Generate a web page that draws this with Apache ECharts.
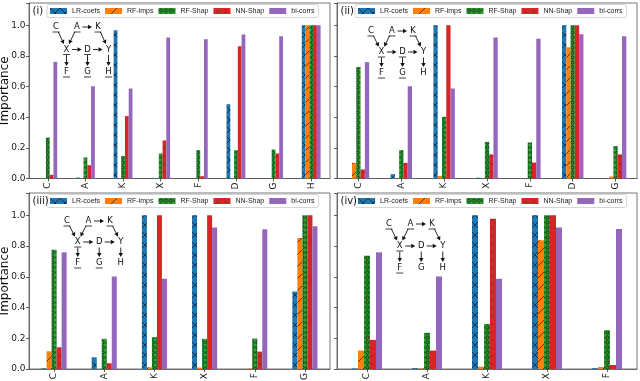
<!DOCTYPE html>
<html><head><meta charset="utf-8">
<script src="https://cdn.jsdelivr.net/npm/echarts@6/dist/echarts.min.js"></script>
<style>html,body{margin:0;padding:0;background:#fff}#c{width:640px;height:381px}</style>
</head><body><div id="c"></div><script>
// ---------- DATA ----------
const seriesNames = ['LR-coefs', 'RF-imps', 'RF-Shap', 'NN-Shap', 'bi-corrs'];
const panelLabels = ['(i)', '(ii)', '(iii)', '(iv)'];
const yTicks = [0, 0.2, 0.4, 0.6, 0.8, 1.0];

const cats1 = ['C', 'A', 'K', 'X', 'F', 'D', 'G', 'H'];
const p1LR     = [0, 0.006, 0.967, 0.004, 0, 0.485, 0, 1.0];
const p1RFimp  = [0, 0, 0, 0, 0, 0, 0, 1.0];
const p1RFshap = [0.267, 0.137, 0.146, 0.163, 0.185, 0.185, 0.189, 1.0];
const p1NN     = [0.024, 0.087, 0.407, 0.248, 0.015, 0.863, 0.163, 1.0];
const p1Bi     = [0.761, 0.602, 0.587, 0.920, 0.909, 0.939, 0.928, 1.0];

const cats2 = ['C', 'A', 'K', 'X', 'F', 'D', 'G'];
const p2LR     = [0, 0.028, 1.0, 0.005, 0, 1.0, 0];
const p2RFimp  = [0.102, 0.003, 0.017, 0, 0, 0.857, 0.013];
const p2RFshap = [0.728, 0.185, 0.402, 0.239, 0.235, 1.0, 0.211];
const p2NN     = [0.059, 0.102, 1.0, 0.157, 0.104, 1.0, 0.157];
const p2Bi     = [0.759, 0.602, 0.587, 0.920, 0.911, 0.941, 0.928];

const cats3 = ['C', 'A', 'K', 'X', 'F', 'G'];
const p3LR     = [0.005, 0.076, 1.0, 1.0, 0, 0.504];
const p3RFimp  = [0.115, 0, 0.011, 0.009, 0.004, 0.852];
const p3RFshap = [0.776, 0.196, 0.207, 0.196, 0.198, 1.0];
const p3NN     = [0.141, 0.037, 1.0, 1.0, 0.113, 1.0];
const p3Bi     = [0.759, 0.602, 0.587, 0.920, 0.909, 0.928];

const cats4 = ['C', 'A', 'K', 'X', 'F'];
const p4LR     = [0.004, 0.006, 1.0, 1.0, 0.006];
const p4RFimp  = [0.120, 0.004, 0.015, 0.837, 0.013];
const p4RFshap = [0.737, 0.235, 0.293, 1.0, 0.252];
const p4NN     = [0.189, 0.120, 0.978, 1.0, 0.026];
const p4Bi     = [0.759, 0.602, 0.587, 0.920, 0.911];

// causal diagram (same graph in every panel)
const dagNodes = ['C', 'A', 'K', 'X', 'D', 'Y', 'F', 'G', 'H'];
const dagCol   = [0, 1, 2, 0.5, 1.5, 2.5, 0.5, 1.5, 2.5];
const dagRow   = [0, 0, 0, 1, 1, 1, 2, 2, 2];
const dagEdges = [['C','X'],['A','X'],['A','K'],['K','Y'],['X','D'],['D','Y'],['X','F'],['D','G'],['Y','H']];

// ---------- LAYOUT / STYLE ----------
const panels = [
  {cats: cats1, vals: [p1LR, p1RFimp, p1RFshap, p1NN, p1Bi], grid: {left: 29, top: 3, width: 301, height: 175.5}, dag: [56, 27, 21, 22.5]},
  {cats: cats2, vals: [p2LR, p2RFimp, p2RFshap, p2NN, p2Bi], grid: {left: 337, top: 3, width: 300, height: 175.5}, dag: [371, 31, 21, 21]},
  {cats: cats3, vals: [p3LR, p3RFimp, p3RFshap, p3NN, p3Bi], grid: {left: 29, top: 193, width: 301, height: 176}, dag: [67, 221, 21.5, 21]},
  {cats: cats4, vals: [p4LR, p4RFimp, p4RFshap, p4NN, p4Bi], grid: {left: 337, top: 193, width: 300, height: 176}, dag: [389, 224, 21.5, 22]}
];
const FONT = 'DejaVu Sans';

function pattern(fill, size, draw) {
  const c = document.createElement('canvas');
  c.width = size[0]; c.height = size[1];
  const x = c.getContext('2d');
  x.fillStyle = fill; x.fillRect(0, 0, size[0], size[1]);
  x.strokeStyle = '#101820'; x.fillStyle = '#101820';
  draw(x, size[0], size[1]);
  return {image: c, repeat: 'repeat'};
}
const fills = [
  pattern('#1f77b4', [10, 10], (x, w, h) => {
    x.lineWidth = 0.7; x.beginPath();
    x.moveTo(-1, -1); x.lineTo(w + 1, h + 1); x.moveTo(w + 1, -1); x.lineTo(-1, h + 1); x.stroke();
  }),
  pattern('#ff7f0e', [12, 12], (x, w, h) => {
    x.lineWidth = 0.7; x.beginPath();
    x.moveTo(-1, h + 1); x.lineTo(w + 1, -1); x.stroke();
  }),
  pattern('#2ca02c', [5, 5], (x, w, h) => {
    x.lineWidth = 0.8; x.beginPath(); x.arc(w / 2, h / 2, 1.6, 0, Math.PI * 2); x.stroke();
  }),
  pattern('#d62728', [8, 8], (x, w, h) => {
    x.beginPath(); x.arc(w / 2, h / 2, 0.6, 0, Math.PI * 2); x.fill();
  }),
  '#9467bd'
];

const option = {
  animation: false,
  backgroundColor: '#fff',
  grid: [], xAxis: [], yAxis: [], series: [], legend: [], graphic: []
};

panels.forEach((p, pi) => {
  const g = p.grid;
  option.grid.push(Object.assign({show: true, borderColor: '#555', borderWidth: 0.8, backgroundColor: 'transparent',
    containLabel: false, outerBoundsMode: 'none'}, g));
  option.xAxis.push({
    type: 'category', gridIndex: pi, data: p.cats,
    axisLine: {show: true, lineStyle: {color: '#555', width: 0.8}},
    axisTick: {show: true, alignWithLabel: true, length: 3, lineStyle: {color: '#333', width: 0.8}},
    axisLabel: {rotate: 90, fontSize: 9, fontFamily: FONT, color: '#222', margin: 4}
  });
  option.yAxis.push({
    type: 'value', gridIndex: pi, min: 0, max: 1.145, interval: 0.2,
    name: pi % 2 === 0 ? 'Importance' : '', nameLocation: 'middle', nameGap: 18.5, nameMoveOverlap: false,
    nameTextStyle: {fontSize: 12, fontFamily: FONT, color: '#111'},
    splitLine: {show: false},
    axisLine: {show: true, lineStyle: {color: '#555', width: 0.8}},
    axisTick: {show: true, length: 3, lineStyle: {color: '#333', width: 0.8}},
    axisLabel: {show: pi % 2 === 0, fontSize: 9, fontFamily: FONT, color: '#222', margin: 3.5,
      formatter: v => (yTicks.some(t => Math.abs(t - v) < 1e-6) ? v.toFixed(1) : '')}
  });
  seriesNames.forEach((nm, si) => {
    option.series.push({
      name: nm, type: 'bar', xAxisIndex: pi, yAxisIndex: pi,
      data: p.vals[si], barGap: '0%', barCategoryGap: '50%',
      itemStyle: {color: fills[si]}
    });
  });
  option.legend.push({
    data: seriesNames, left: g.left + 18, top: g.top + 1.5,
    icon: 'rect', itemWidth: 17, itemHeight: 6, itemGap: 5,
    padding: [3, 4, 3, 3], borderColor: '#ccc', borderWidth: 0.8, borderRadius: 2,
    backgroundColor: 'rgba(255,255,255,0.85)', selectedMode: false,
    textStyle: {fontSize: 7, fontFamily: 'Liberation Sans', color: '#222', width: 32, overflow: 'none'}
  });
  option.graphic.push({
    type: 'text', left: g.left + 3.5, top: g.top + 3, z: 10,
    style: {text: panelLabels[pi], fontSize: 10, fontFamily: FONT, fill: '#111'}
  });
  // causal diagram
  const [ox, oy, dx, dy] = p.dag;
  const pos = {};
  dagNodes.forEach((n, ni) => { pos[n] = [ox + dagCol[ni] * dx, oy + dagRow[ni] * dy]; });
  dagNodes.forEach(n => {
    const [x, y] = pos[n];
    option.graphic.push({type: 'text', z: 10, x: x, y: y,
      style: {text: n, fontSize: 8.5, fontFamily: FONT, fill: '#111', align: 'center', verticalAlign: 'middle'}});
    if (p.cats.indexOf(n) >= 0) {
      option.graphic.push({type: 'line', z: 10, shape: {x1: x - 3.5, y1: y + 5, x2: x + 3.5, y2: y + 5},
        style: {stroke: '#111', lineWidth: 0.8}});
    }
  });
  dagEdges.forEach(([a, b]) => {
    const [x1, y1] = pos[a], [x2, y2] = pos[b];
    const L = Math.hypot(x2 - x1, y2 - y1), ux = (x2 - x1) / L, uy = (y2 - y1) / L;
    const s0 = 5.5, s1 = 6;
    const sx = x1 + ux * s0, sy = y1 + uy * s0, ex = x2 - ux * s1, ey = y2 - uy * s1;
    const hl = 4, hw = 2.2;
    const bx = ex - ux * hl, by = ey - uy * hl;
    option.graphic.push({type: 'line', z: 10, shape: {x1: sx, y1: sy, x2: bx, y2: by}, style: {stroke: '#111', lineWidth: 0.9}});
    option.graphic.push({type: 'polygon', z: 10,
      shape: {points: [[ex, ey], [bx - uy * hw, by + ux * hw], [bx + uy * hw, by - ux * hw]]},
      style: {fill: '#111'}});
  });
});

const chart = echarts.init(document.getElementById('c'), null, {renderer: 'canvas'});
chart.setOption(option);
</script></body></html>
